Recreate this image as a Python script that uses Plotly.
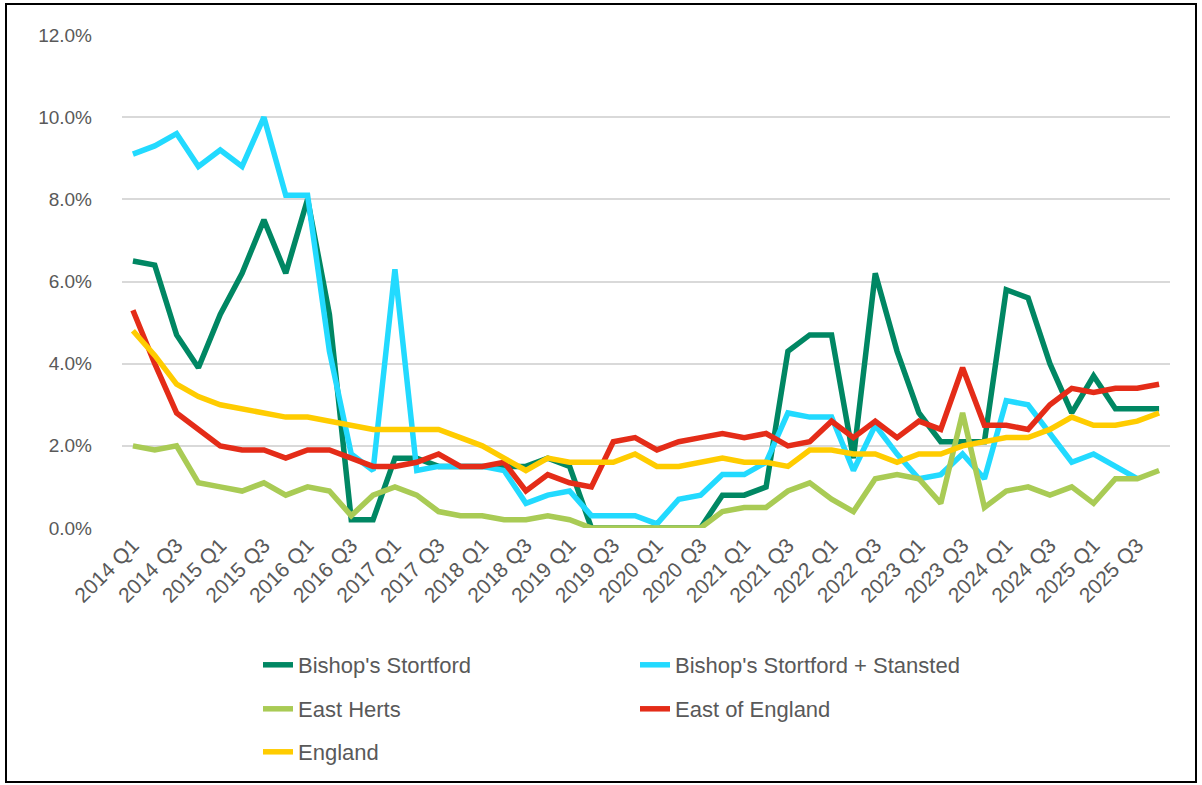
import plotly.graph_objects as go

quarters = [f"{y} Q{q}" for y in range(2014, 2026) for q in range(1, 5)]

bishops_stortford = [6.5, 6.4, 4.7, 3.9, 5.2, 6.2, 7.5, 6.2, 8.0, 5.2, 0.2, 0.2,
                     1.7, 1.7, 1.5, 1.5, 1.5, 1.5, 1.5, 1.7, 1.5, 0.0, 0.0, 0.0,
                     0.0, 0.0, 0.0, 0.8, 0.8, 1.0, 4.3, 4.7, 4.7, 1.7, 6.2, 4.3,
                     2.8, 2.1, 2.1, 2.1, 5.8, 5.6, 4.0, 2.8, 3.7, 2.9, 2.9, 2.9]
bs_stansted = [9.1, 9.3, 9.6, 8.8, 9.2, 8.8, 10.0, 8.1, 8.1, 4.3, 1.8, 1.4,
               6.3, 1.4, 1.5, 1.5, 1.5, 1.4, 0.6, 0.8, 0.9, 0.3, 0.3, 0.3,
               0.1, 0.7, 0.8, 1.3, 1.3, 1.6, 2.8, 2.7, 2.7, 1.4, 2.5, 1.8,
               1.2, 1.3, 1.8, 1.2, 3.1, 3.0, 2.3, 1.6, 1.8, 1.5, 1.2, None]
east_herts = [2.0, 1.9, 2.0, 1.1, 1.0, 0.9, 1.1, 0.8, 1.0, 0.9, 0.3, 0.8,
              1.0, 0.8, 0.4, 0.3, 0.3, 0.2, 0.2, 0.3, 0.2, 0.0, 0.0, 0.0,
              0.0, 0.0, 0.0, 0.4, 0.5, 0.5, 0.9, 1.1, 0.7, 0.4, 1.2, 1.3,
              1.2, 0.6, 2.8, 0.5, 0.9, 1.0, 0.8, 1.0, 0.6, 1.2, 1.2, 1.4]
east_of_england = [5.3, 4.0, 2.8, 2.4, 2.0, 1.9, 1.9, 1.7, 1.9, 1.9, 1.7, 1.5,
                   1.5, 1.6, 1.8, 1.5, 1.5, 1.6, 0.9, 1.3, 1.1, 1.0, 2.1, 2.2,
                   1.9, 2.1, 2.2, 2.3, 2.2, 2.3, 2.0, 2.1, 2.6, 2.2, 2.6, 2.2,
                   2.6, 2.4, 3.9, 2.5, 2.5, 2.4, 3.0, 3.4, 3.3, 3.4, 3.4, 3.5]
england = [4.8, 4.2, 3.5, 3.2, 3.0, 2.9, 2.8, 2.7, 2.7, 2.6, 2.5, 2.4,
           2.4, 2.4, 2.4, 2.2, 2.0, 1.7, 1.4, 1.7, 1.6, 1.6, 1.6, 1.8,
           1.5, 1.5, 1.6, 1.7, 1.6, 1.6, 1.5, 1.9, 1.9, 1.8, 1.8, 1.6,
           1.8, 1.8, 2.0, 2.1, 2.2, 2.2, 2.4, 2.7, 2.5, 2.5, 2.6, 2.8]

tick_labels = quarters[::2]
y_ticks = [0, 2, 4, 6, 8, 10, 12]

series = [
    ("Bishop's Stortford", bishops_stortford, "#008763", "legend"),
    ("Bishop's Stortford + Stansted", bs_stansted, "#22DAFF", "legend"),
    ("East Herts", east_herts, "#A9CB55", "legend2"),
    ("East of England", east_of_england, "#E42C18", "legend2"),
    ("England", england, "#FFCC00", "legend3"),
]

FONT = "Liberation Sans, Arial, sans-serif"
TXT = "#595959"

fig = go.Figure()
for name, vals, color, lg in series:
    fig.add_trace(go.Scatter(
        x=quarters, y=vals, name=name, mode="lines",
        line=dict(color=color, width=5.5), legend=lg,
    ))

L, R, T, B = 122, 32, 35, 257
W, H = 1202, 785
pw, ph = W - L - R, H - T - B

def px_x(p):
    return (p - L) / pw

def px_y(p):
    return (H - B - p) / ph

legend_common = dict(
    orientation="h", xanchor="left", yanchor="middle",
    font=dict(family=FONT, size=22, color=TXT),
    entrywidth=332, entrywidthmode="pixels",
    bgcolor="rgba(0,0,0,0)", borderwidth=0,
)

fig.update_layout(
    width=W, height=H,
    margin=dict(l=L, r=R, t=T, b=B),
    paper_bgcolor="white", plot_bgcolor="white",
    font=dict(family=FONT, size=19, color=TXT),
    legend=dict(x=px_x(258), y=px_y(665), **legend_common),
    legend2=dict(x=px_x(258), y=px_y(709), **legend_common),
    legend3=dict(x=px_x(258), y=px_y(752), **legend_common),
    xaxis=dict(
        type="category", categoryorder="array", categoryarray=quarters,
        range=[-0.5, len(quarters) - 0.5],
        tickmode="array", tickvals=tick_labels, ticktext=tick_labels,
        tickangle=-45, showgrid=False, showline=False, zeroline=False,
        ticks="", tickfont=dict(family=FONT, size=21, color=TXT),
    ),
    yaxis=dict(
        range=[0, 12], tickmode="array", tickvals=y_ticks,
        ticktext=[f"{v:.1f}%" for v in y_ticks],
        showgrid=True, gridcolor="#D9D9D9", gridwidth=1.5,
        zeroline=False, showline=False, ticks="",
        ticklabelstandoff=29,
        tickfont=dict(family=FONT, size=19, color=TXT),
    ),
    shapes=[dict(
        type="rect", xref="paper", yref="paper",
        x0=px_x(6), x1=px_x(1196), y0=px_y(782), y1=px_y(4),
        line=dict(color="#000000", width=2), fillcolor="rgba(0,0,0,0)",
        layer="above",
    )],
)

fig.write_html(
    "out.html",
    config={"displayModeBar": False},
    post_script="document.body.style.margin='0';document.body.style.overflow='hidden';",
)
